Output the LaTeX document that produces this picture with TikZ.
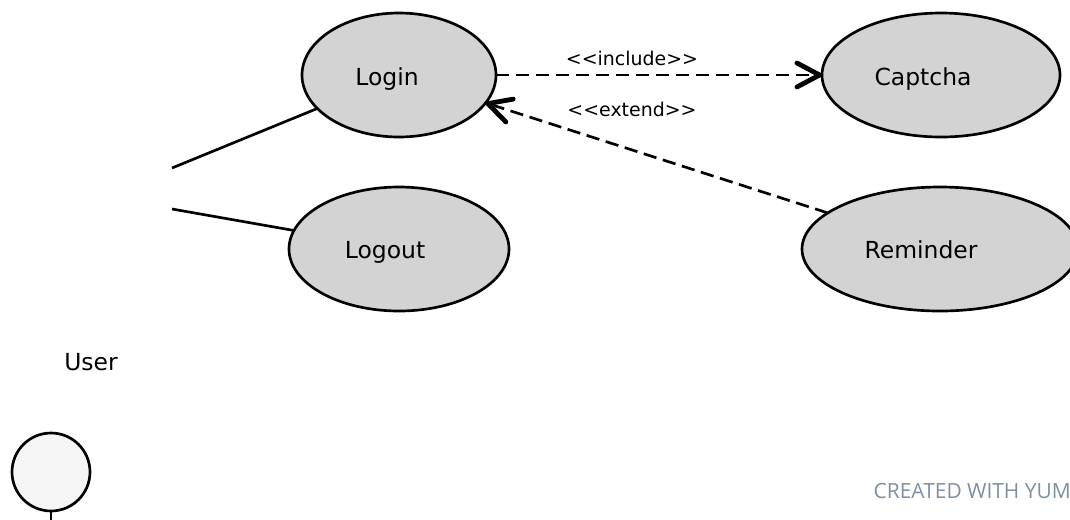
\documentclass[tikz,border=0pt]{standalone}
\usepackage{fontspec}
\setmainfont{DejaVu Sans}
\newfontfamily\creditfont{Open Sans}
\usetikzlibrary{arrows.meta,shapes.geometric}
\definecolor{casegray}{HTML}{D3D3D3}
\definecolor{actorgray}{HTML}{F5F5F5}
\definecolor{creditblue}{HTML}{7D8FA3}
\tikzset{
  usecase/.style={draw,ellipse,fill=casegray,line width=2pt,inner sep=0pt,outer sep=0pt},
  casetext/.style={anchor=base,font=\fontsize{17.6}{20}\selectfont,text=black,inner sep=0pt},
  edgetext/.style={anchor=base,font=\fontsize{14.2}{16}\selectfont,text=black,inner sep=0pt},
  assoc/.style={line width=2pt},
  depend/.style={line width=2pt,dash pattern=on 10pt off 5pt,-{Straight Barb[length=17pt,width=18pt,line width=3.6pt,round]}}
}

\begin{document}
\begin{tikzpicture}[x=0.75pt,y=-0.75pt]
\useasboundingbox (0,0) rectangle (1070,519);

\node[usecase,minimum width=145.5pt,minimum height=93pt] (login) at (399,75) {};
\node[usecase,minimum width=178.5pt,minimum height=93pt] (captcha) at (941,75) {};
\node[usecase,minimum width=165pt,minimum height=93pt] (logout) at (399,249) {};
\node[usecase,minimum width=207pt,minimum height=93pt] (reminder) at (940,249) {};

\node[casetext] (loginText) at (387,85) {Login};
\node[casetext] (captchaText) at (923,85) {Captcha};
\node[casetext] (logoutText) at (385,258.5) {Logout};
\node[casetext] (reminderText) at (921,258.5) {Reminder};
\node[casetext] (userText) at (91,370) {User};

\node[edgetext] (includeText) at (632,65) {<{}<include>{}>};
\node[edgetext] (extendText) at (632,116) {<{}<extend>{}>};

\coordinate (userTop) at (172,168);
\coordinate (userBottom) at (172,209);
\draw[assoc] (userTop) -- (login);
\draw[assoc] (userBottom) -- (logout);

\draw[depend] (login) -- (captcha);
\draw[depend] (reminder) -- (login);

\node[draw,circle,fill=actorgray,line width=2pt,minimum size=58.5pt,inner sep=0pt,outer sep=0pt] (head) at (51,472) {};
\coordinate (bodyEnd) at (51,525);
\draw[assoc] (head) -- (bodyEnd);

\node[anchor=base east,font=\creditfont\fontsize{15.7}{18}\selectfont,text=creditblue,inner sep=0pt] (credit) at (1071,498) {CREATED WITH YUM};
\end{tikzpicture}
\end{document}
